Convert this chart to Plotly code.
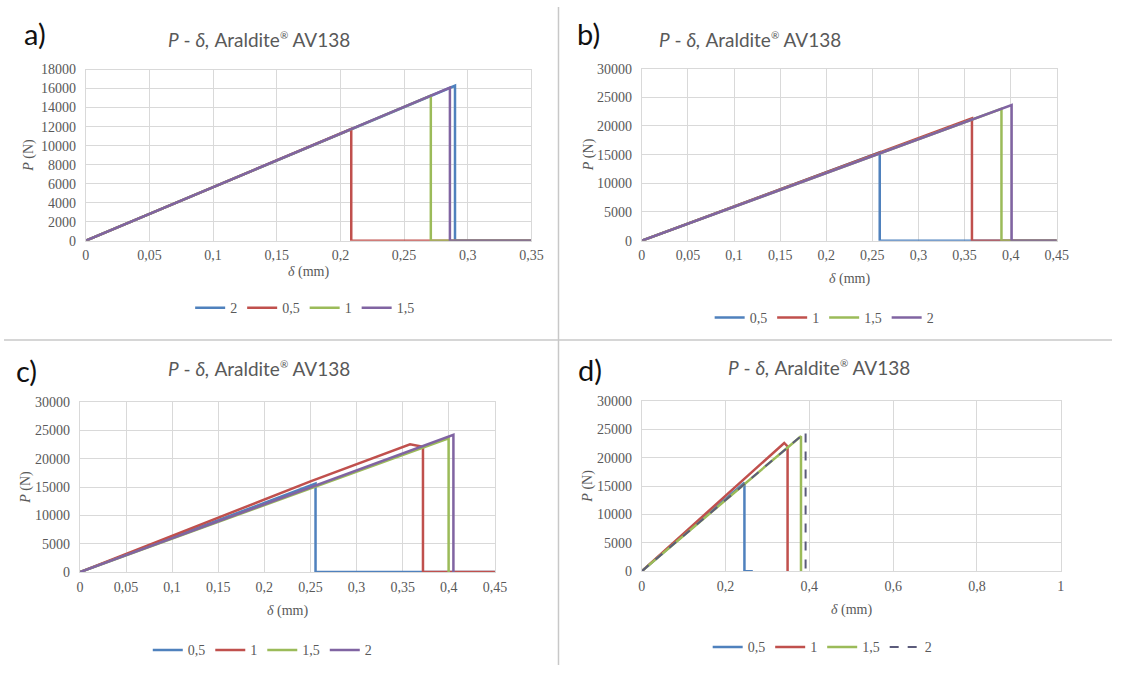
import plotly.graph_objects as go

W, H = 1124, 673

BLUE = "#4F81BD"
RED = "#C0504D"
GREEN = "#9BBB59"
PURPLE = "#8064A2"
DARK = "#5B5B7B"

# ---- a) ----
a_names = ["2", "0,5", "1", "1,5"]
a_delta = [[0, 0.290, 0.290, 0.35],
           [0, 0.2085, 0.2085, 0.35],
           [0, 0.271, 0.271, 0.35],
           [0, 0.286, 0.286, 0.35]]
a_load = [[0, 16300, 0, 0],
          [0, 11750, 0, 0],
          [0, 15250, 0, 0],
          [0, 16100, 0, 0]]

# ---- b) ----
b_names = ["0,5", "1", "1,5", "2"]
b_delta = [[0, 0.258, 0.258, 0.45],
           [0, 0.358, 0.358, 0.45],
           [0, 0.390, 0.390, 0.45],
           [0, 0.401, 0.401, 0.45]]
b_load = [[0, 15400, 0, 0],
          [0, 21350, 0, 0],
          [0, 23000, 0, 0],
          [0, 23650, 0, 0]]

# ---- c) ----
c_names = ["0,5", "1", "1,5", "2"]
c_delta = [[0, 0.2555, 0.2555, 0.45],
           [0, 0.25, 0.358, 0.372, 0.372, 0.45],
           [0, 0.3998, 0.3998],
           [0, 0.405, 0.405]]
c_load = [[0, 15600, 0, 0],
          [0, 16000, 22550, 22100, 0, 0],
          [0, 23600, 0],
          [0, 24200, 0]]

# ---- d) ----
d_names = ["0,5", "1", "1,5", "2"]
d_delta = [[0, 0.245, 0.245, 0.265],
           [0, 0.34, 0.348, 0.348],
           [0, 0.380, 0.380],
           [0, 0.391, 0.391]]
d_load = [[0, 15600, 0, 0],
          [0, 22600, 22000, 0],
          [0, 23800, 0],
          [0, 24500, 0]]

a_x_ticks = [0, 0.05, 0.1, 0.15, 0.2, 0.25, 0.3, 0.35]
bc_x_ticks = [0, 0.05, 0.1, 0.15, 0.2, 0.25, 0.3, 0.35, 0.4, 0.45]
d_x_ticks = [0, 0.2, 0.4, 0.6, 0.8, 1]
a_y_ticks = list(range(0, 18001, 2000))
bcd_y_ticks = list(range(0, 30001, 5000))


def fx(px):
    return px / W


def fy(py):
    return 1 - py / H


def tick_text(v):
    return ("%g" % v).replace(".", ",")


SERIF = "Liberation Serif"
TICK_FONT = dict(family=SERIF, size=14, color="#595959")
GRID = "#D9D9D9"
TITLE_TEXT = ("<i>P</i> - <i>δ,</i> Araldite"
              "<sup><span style='font-size:10px'>®</span></sup> AV138")

panels = [
    dict(key="", label="a)", names=a_names, delta=a_delta, load=a_load,
         colors=[BLUE, RED, GREEN, PURPLE], dashes=["solid"] * 4,
         xt=a_x_ticks, yt=a_y_ticks,
         box=(83, 535, 64, 239), title_x=259, title_y=33, lab=(31, 27),
         xt_y=271, yt_x=25, leg=(305, 308)),
    dict(key="2", label="b)", names=b_names, delta=b_delta, load=b_load,
         colors=[BLUE, RED, GREEN, PURPLE], dashes=["solid"] * 4,
         xt=bc_x_ticks, yt=bcd_y_ticks,
         box=(647, 1068, 63, 239), title_x=757, title_y=33, lab=(593, 27),
         xt_y=278, yt_x=593, leg=(832, 318)),
    dict(key="3", label="c)", names=c_names, delta=c_delta, load=c_load,
         colors=[BLUE, RED, GREEN, PURPLE], dashes=["solid"] * 4,
         xt=bc_x_ticks, yt=bcd_y_ticks,
         box=(77, 498, 404, 578), title_x=259, title_y=370, lab=(23, 372),
         xt_y=618, yt_x=22, leg=(262, 658)),
    dict(key="4", label="d)", names=d_names, delta=d_delta, load=d_load,
         colors=[BLUE, RED, GREEN, DARK], dashes=["solid", "solid", "solid", "dash"],
         xt=d_x_ticks, yt=bcd_y_ticks,
         box=(647, 1072, 403, 577), title_x=827, title_y=369, lab=(594, 371),
         xt_y=617, yt_x=593, leg=(830, 655)),
]

fig = go.Figure()
annotations = []
layout = {}

for p in panels:
    k = p["key"]
    xa = "x" + k
    ya = "y" + k
    leg = "legend" + k
    for name, xs, ys, col, dash in zip(p["names"], p["delta"], p["load"],
                                       p["colors"], p["dashes"]):
        fig.add_trace(go.Scatter(
            x=xs, y=ys, name=name, mode="lines",
            line=dict(color=col, width=2.5 if dash == "solid" else 2, dash=dash),
            xaxis=xa, yaxis=ya, legend=leg, hoverinfo="skip"))

    x0, x1, y0, y1 = p["box"]
    layout["xaxis" + k] = dict(
        domain=[fx(x0), fx(x1)], anchor=ya,
        range=[p["xt"][0], p["xt"][-1]],
        tickvals=p["xt"], ticktext=[tick_text(v) for v in p["xt"]],
        showgrid=True, gridcolor=GRID, gridwidth=1,
        showline=True, linecolor=GRID, mirror=True,
        zeroline=False, ticks="", tickfont=TICK_FONT, fixedrange=True,
        ticklabelstandoff=2)
    layout["yaxis" + k] = dict(
        domain=[fy(y1), fy(y0)], anchor=xa,
        range=[p["yt"][0], p["yt"][-1]],
        tickvals=p["yt"], ticktext=[str(v) for v in p["yt"]],
        showgrid=True, gridcolor=GRID, gridwidth=1,
        showline=True, linecolor=GRID, mirror=True,
        zeroline=False, ticks="", tickfont=TICK_FONT, fixedrange=True,
        ticklabelstandoff=6)

    lx, ly = p["leg"]
    layout[leg] = dict(
        orientation="h", x=fx(lx), y=fy(ly), xanchor="center", yanchor="middle",
        font=dict(family=SERIF, size=14, color="#595959"),
        bgcolor="rgba(0,0,0,0)", itemwidth=30, traceorder="normal")

    # chart title
    annotations.append(dict(
        x=fx(p["title_x"]), y=fy(p["title_y"]), xref="paper", yref="paper",
        text=TITLE_TEXT, showarrow=False,
        font=dict(family="Lato", size=19, color="#595959"),
        xanchor="center", yanchor="middle"))
    # panel letter
    annotations.append(dict(
        x=fx(p["lab"][0]), y=fy(p["lab"][1]), xref="paper", yref="paper",
        text=p["label"], showarrow=False,
        font=dict(family="Lato", size=29, color="#111111"),
        xanchor="center", yanchor="middle"))
    # axis titles
    annotations.append(dict(
        x=fx((x0 + x1) / 2), y=fy(p["xt_y"]), xref="paper", yref="paper",
        text="<i>δ</i> (mm)", showarrow=False,
        font=dict(family=SERIF, size=14, color="#595959"),
        xanchor="center", yanchor="middle"))
    annotations.append(dict(
        x=fx(p["yt_x"]), y=fy((y0 + y1) / 2), xref="paper", yref="paper",
        text="<i>P</i> (N)", showarrow=False, textangle=-90,
        font=dict(family=SERIF, size=14, color="#595959"),
        xanchor="center", yanchor="middle"))

# separators between the four panels
shapes = [
    dict(type="line", xref="paper", yref="paper", x0=fx(562.5), x1=fx(562.5),
         y0=0, y1=1, line=dict(color="#C8C8C8", width=1.5)),
    dict(type="line", xref="paper", yref="paper", x0=0, x1=1,
         y0=fy(340.7), y1=fy(340.7), line=dict(color="#C8C8C8", width=1.5)),
]

fig.update_layout(
    width=W, height=H, margin=dict(l=0, r=0, t=0, b=0),
    paper_bgcolor="white", plot_bgcolor="white",
    annotations=annotations, shapes=shapes, **layout)

fig.write_html("out.html")
